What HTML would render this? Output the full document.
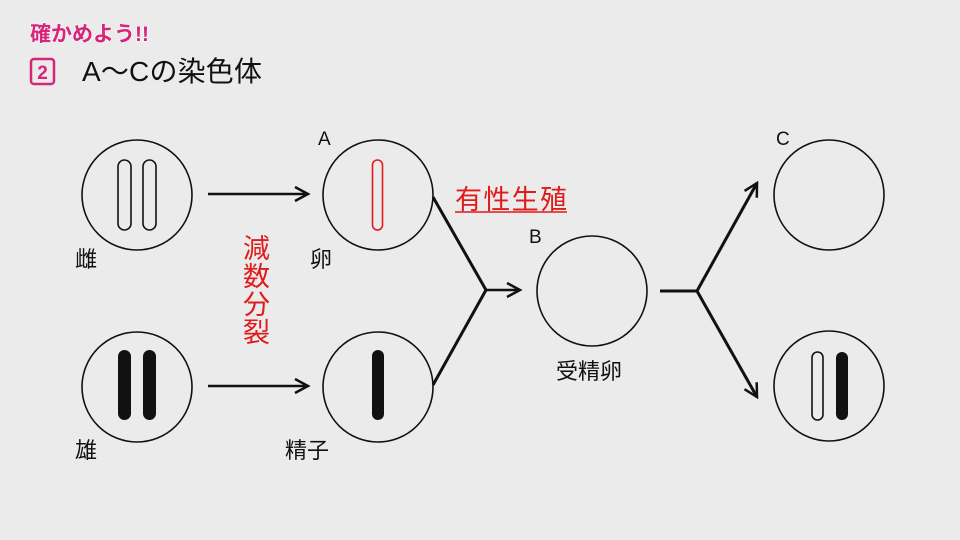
<!DOCTYPE html>
<html><head><meta charset="utf-8"><style>
html,body{margin:0;padding:0;background:#ebebeb;}
svg{display:block}
text{font-family:"Liberation Sans","Noto Sans CJK JP",sans-serif;}
</style></head><body>
<svg width="960" height="540" viewBox="0 0 960 540" xmlns="http://www.w3.org/2000/svg">
<rect width="960" height="540" fill="#ebebeb"/>
<defs>
<marker id="ah" markerWidth="20" markerHeight="18" refX="16" refY="9" orient="auto" markerUnits="userSpaceOnUse">
<path d="M3,2 L16,9 L3,16" fill="none" stroke="#111" stroke-width="2.5"/>
</marker>
</defs>
<text x="30" y="41" font-size="21" font-weight="bold" fill="#d6257a" stroke="#fff" stroke-width="1" paint-order="stroke">確かめよう!!</text>
<rect x="31" y="59" width="23" height="25" rx="3" fill="none" stroke="#d6257a" stroke-width="2.5"/>
<text x="42.5" y="79" font-size="19" font-weight="bold" fill="#d6257a" text-anchor="middle">2</text>
<text x="82" y="81" font-size="28" fill="#111" textLength="180">A～Cの染色体</text>

<g fill="none" stroke="#111" stroke-width="1.6">
<circle cx="137" cy="195" r="55"/>
<circle cx="137" cy="387" r="55"/>
<circle cx="378" cy="195" r="55"/>
<circle cx="378" cy="387" r="55"/>
<circle cx="592" cy="291" r="55"/>
<circle cx="829" cy="195" r="55"/>
<circle cx="829" cy="386" r="55"/>
<rect x="118" y="160" width="13" height="70" rx="6.5"/>
<rect x="143" y="160" width="13" height="70" rx="6.5"/>
<rect x="812" y="352" width="11" height="68" rx="5.5"/>
</g>
<rect x="372.5" y="160" width="10" height="70" rx="5" fill="none" stroke="#e01b1b" stroke-width="1.6"/>
<g fill="#111">
<rect x="118" y="350" width="13" height="70" rx="6.5"/>
<rect x="143" y="350" width="13" height="70" rx="6.5"/>
<rect x="372" y="350" width="12" height="70" rx="6"/>
<rect x="836" y="352" width="12" height="68" rx="6"/>
</g>
<g stroke="#111" stroke-width="2.5" fill="none">
<line x1="208" y1="194" x2="308" y2="194" marker-end="url(#ah)"/>
<line x1="208" y1="386" x2="308" y2="386" marker-end="url(#ah)"/>
<polyline points="433,197 486,290 433,385" stroke-width="3"/>
<line x1="486" y1="290" x2="520" y2="290" marker-end="url(#ah)"/>
<line x1="660" y1="291" x2="697" y2="291" stroke-width="3"/>
<line x1="697" y1="291" x2="757" y2="183" stroke-width="3" marker-end="url(#ah)"/>
<line x1="697" y1="291" x2="757" y2="397" stroke-width="3" marker-end="url(#ah)"/>
</g>
<g font-size="22" fill="#111">
<text x="75" y="267">雌</text>
<text x="310" y="267">卵</text>
<text x="75" y="458">雄</text>
<text x="285" y="458">精子</text>
<text x="556" y="379">受精卵</text>
<text x="318" y="145" font-size="19">A</text>
<text x="529" y="243" font-size="19">B</text>
<text x="776" y="145" font-size="19">C</text>
</g>
<g font-size="27" fill="#e01b1b">
<text x="243" y="258">減</text>
<text x="243" y="286">数</text>
<text x="243" y="314">分</text>
<text x="243" y="342">裂</text>
<text x="455" y="209" font-size="27" textLength="112">有性生殖</text>
</g>
<line x1="455" y1="212" x2="567" y2="212" stroke="#e01b1b" stroke-width="1.6"/>
</svg>
</body></html>
